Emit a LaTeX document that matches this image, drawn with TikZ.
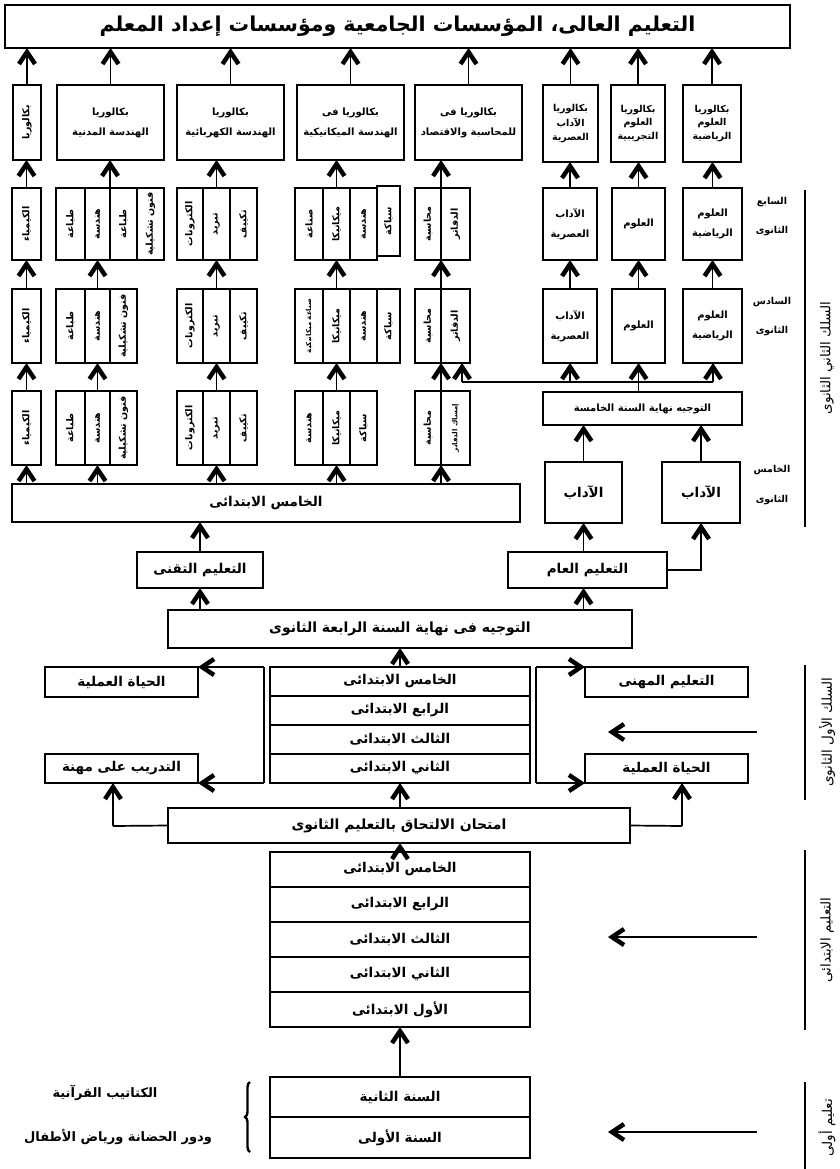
\documentclass[tikz,border=0pt]{standalone}
\usepackage{fontspec}
\usetikzlibrary{arrows.meta,decorations.pathreplacing}
\newfontfamily\ar[Script=Arabic]{DejaVu Sans}
\TeXXeTstate=1
\newcommand\AR[1]{\beginR #1\endR}
\newcommand\bx[7][]{\node[box,#1,minimum width={(#5-#3)*1pt},minimum height={(#6-#4)*1pt}] (#2) at ({(#3+#5)/2},{(#4+#6)/2}) {#7};}
\newcommand\vb[7][]{\node[box,minimum width={(#5-#3)*1pt},minimum height={(#6-#4)*1pt}] (#2) at ({(#3+#5)/2},{(#4+#6)/2}) {};
  \node[vt,#1] (#2t) at (#2.center) {#7};}
\begin{document}
\begin{tikzpicture}[x=1pt,y=-1pt,
  box/.style={draw,line width=2.8pt,inner sep=1pt,outer sep=0pt,align=center,font=\ar\bfseries\fontsize{13.5}{15}\selectfont},
  sm/.style={font=\ar\bfseries\fontsize{10}{11}\selectfont},
  xs/.style={font=\ar\bfseries\fontsize{9.5}{10.5}\selectfont},
  mid/.style={font=\ar\bfseries\fontsize{14}{16}\selectfont},
  title/.style={font=\ar\bfseries\fontsize{20.5}{22}\selectfont},
  vt/.style={rotate=90,inner sep=0pt,font=\ar\bfseries\fontsize{9.5}{10}\selectfont},
  tiny/.style={font=\ar\bfseries\fontsize{7}{8}\selectfont},
  lab/.style={inner sep=0pt,font=\ar\bfseries\fontsize{9.5}{10}\selectfont},
  side/.style={rotate=90,inner sep=0pt,font=\ar\fontsize{13.5}{15}\selectfont},
  arr/.style={line width=1.7pt,-{Straight Barb[length=12pt,width=16pt,line width=4.5pt]}},
  ln/.style={line width=1.7pt},
  bar/.style={line width=1.4pt}]
\fill[white] (0,0) rectangle (839,1169);
\useasboundingbox (0,0) rectangle (839,1169);
% top
\bx[title]{T}{5}{5}{790}{48}{\AR{التعليم العالى، المؤسسات الجامعية ومؤسسات إعداد المعلم}}
% bac row
\vb{B1}{13}{85}{41}{160}{\AR{بكالوريا}}
\bx[sm]{B2}{57}{85}{164}{160}{\AR{بكالوريا}\\[9pt]\AR{الهندسة المدنية}}
\bx[sm]{B3}{177}{85}{284}{160}{\AR{بكالوريا}\\[9pt]\AR{الهندسة الكهربائية}}
\bx[sm]{B4}{297}{85}{404}{160}{\AR{بكالوريا فى}\\[9pt]\AR{الهندسة الميكانيكية}}
\bx[sm]{B5}{415}{85}{522}{160}{\AR{بكالوريا فى}\\[9pt]\AR{للمحاسبة والاقتصاد}}
\bx[xs]{B6}{543}{85}{598}{162}{\AR{بكالوريا}\\[3pt]\AR{الآداب}\\[3pt]\AR{العصرية}}
\bx[xs]{B7}{611}{85}{665}{162}{\AR{بكالوريا}\\[3pt]\AR{العلوم}\\[3pt]\AR{التجريبية}}
\bx[xs]{B8}{683}{85}{741}{162}{\AR{بكالوريا}\\[3pt]\AR{العلوم}\\[3pt]\AR{الرياضية}}
% row 7
\vb{r7a}{12}{188}{41}{260}{\AR{الكيمياء}}
\vb{r7b1}{56}{188}{85}{260}{\AR{طباعة}}
\vb{r7b2}{85}{188}{110}{260}{\AR{هندسة}}
\vb{r7b3}{110}{188}{137}{260}{\AR{طباعة}}
\vb{r7b4}{137}{188}{164}{260}{\AR{فنون تشكيلية}}
\vb{r7c1}{177}{188}{203}{260}{\AR{الكترونات}}
\vb{r7c2}{203}{188}{230}{260}{\AR{تبريد}}
\vb{r7c3}{230}{188}{257}{260}{\AR{تكييف}}
\vb{r7d1}{295}{188}{323}{260}{\AR{صناعة}}
\vb{r7d2}{323}{188}{350}{260}{\AR{ميكانيكا}}
\vb{r7d3}{350}{188}{377}{260}{\AR{هندسة}}
\vb{r7d4}{377}{186}{400}{256}{\AR{سباكة}}
\vb{r7e1}{415}{188}{441}{260}{\AR{محاسبة}}
\vb{r7e2}{441}{188}{470}{260}{\AR{الدفاتر}}
\bx[sm]{r7f}{543}{188}{597}{260}{\AR{الآداب}\\[9pt]\AR{العصرية}}
\bx[sm]{r7g}{612}{188}{665}{260}{\AR{العلوم}}
\bx[sm]{r7h}{683}{188}{742}{260}{\AR{العلوم}\\[9pt]\AR{الرياضية}}
\node[lab] (l7a) at (772,202) {\AR{السابع}};
\node[lab] (l7b) at (772,231) {\AR{الثانوى}};
% row 6
\vb{r6a}{12}{289}{41}{363}{\AR{الكيمياء}}
\vb{r6b1}{56}{289}{85}{363}{\AR{طباعة}}
\vb{r6b2}{85}{289}{110}{363}{\AR{هندسة}}
\vb{r6b3}{110}{289}{137}{363}{\AR{فنون تشكيلية}}
\vb{r6c1}{177}{289}{203}{363}{\AR{الكترونات}}
\vb{r6c2}{203}{289}{230}{363}{\AR{تبريد}}
\vb{r6c3}{230}{289}{257}{363}{\AR{تكييف}}
\vb[tiny]{r6d1}{295}{289}{323}{363}{\AR{صناعة ميكانيكية}}
\vb{r6d2}{323}{289}{350}{363}{\AR{ميكانيكا}}
\vb{r6d3}{350}{289}{377}{363}{\AR{هندسة}}
\vb{r6d4}{377}{289}{400}{363}{\AR{سباكة}}
\vb{r6e1}{415}{289}{441}{363}{\AR{محاسبة}}
\vb{r6e2}{441}{289}{470}{363}{\AR{الدفاتر}}
\bx[sm]{r6f}{543}{289}{597}{363}{\AR{الآداب}\\[9pt]\AR{العصرية}}
\bx[sm]{r6g}{612}{289}{665}{363}{\AR{العلوم}}
\bx[sm]{r6h}{683}{289}{742}{363}{\AR{العلوم}\\[9pt]\AR{الرياضية}}
\node[lab] (l6a) at (772,302) {\AR{السادس}};
\node[lab] (l6b) at (772,331) {\AR{الثانوى}};
% row 5
\vb{r5a}{12}{391}{41}{465}{\AR{الكيمياء}}
\vb{r5b1}{56}{391}{85}{465}{\AR{طباعة}}
\vb{r5b2}{85}{391}{110}{465}{\AR{هندسة}}
\vb{r5b3}{110}{391}{137}{465}{\AR{فنون تشكيلية}}
\vb{r5c1}{177}{391}{203}{465}{\AR{الكترونات}}
\vb{r5c2}{203}{391}{230}{465}{\AR{تبريد}}
\vb{r5c3}{230}{391}{257}{465}{\AR{تكييف}}
\vb{r5d1}{295}{391}{323}{465}{\AR{هندسة}}
\vb{r5d2}{323}{391}{350}{465}{\AR{ميكانيكا}}
\vb{r5d3}{350}{391}{377}{465}{\AR{سباكة}}
\vb{r5e1}{415}{391}{441}{465}{\AR{محاسبة}}
\vb[tiny]{r5e2}{441}{391}{470}{465}{\AR{إمساك الدفاتر}}
\bx[sm]{T5}{543}{392}{742}{425}{\AR{التوجيه نهاية السنة الخامسة}}
\bx{A1}{545}{462}{622}{523}{\AR{الآداب}}
\bx{A2}{662}{462}{740}{523}{\AR{الآداب}}
\node[lab] (l5a) at (772,470) {\AR{الخامس}};
\node[lab] (l5b) at (772,500) {\AR{الثانوى}};
\bx{W5}{12}{484}{520}{522}{\AR{الخامس الابتدائى}}
\bx{TT}{137}{552}{263}{588}{\AR{التعليم التقنى}}
\bx{TG}{508}{552}{667}{588}{\AR{التعليم العام}}
\bx[mid]{TJ4}{168}{610}{632}{648}{\AR{التوجيه فى نهاية السنة الرابعة الثانوى}}
\draw[bar] (805,190) coordinate (b1t) -- (805,527) coordinate (b1b);
\node[side] (s1) at (827,358) {\AR{السلك الثاني الثانوى}};
% arrows top section
\draw[arr] (B1.north) -- (B1.north |- T.south);
\draw[arr] (B2.north) -- (B2.north |- T.south);
\draw[arr] (B3.north) -- (B3.north |- T.south);
\draw[arr] (B4.north) -- (B4.north |- T.south);
\draw[arr] (B5.north) -- (B5.north |- T.south);
\draw[arr] (B6.north) -- (B6.north |- T.south);
\draw[arr] (B7.north) -- (B7.north |- T.south);
\draw[arr] (B8.north) -- (B8.north |- T.south);
\draw[arr] (r7a.north) -- (r7a.north |- B1.south);
\draw[arr] (r7b2.north east) -- (r7b2.north east |- B2.south);
\draw[arr] (r7c2.north) -- (r7c2.north |- B3.south);
\draw[arr] (r7d2.north) -- (r7d2.north |- B4.south);
\draw[arr] (r7e1.north east) -- (r7e1.north east |- B5.south);
\draw[arr] (r7f.north) -- (r7f.north |- B6.south);
\draw[arr] (r7g.north) -- (r7g.north |- B7.south);
\draw[arr] (r7h.north) -- (r7h.north |- B8.south);
\draw[arr] (r6a.north) -- (r7a.south);
\draw[arr] (r6b2.north) -- (r7b2.south);
\draw[arr] (r6c2.north) -- (r7c2.south);
\draw[arr] (r6d2.north) -- (r7d2.south);
\draw[arr] (r6e1.north east) -- (r7e1.south east);
\draw[arr] (r6f.north) -- (r7f.south);
\draw[arr] (r6g.north) -- (r7g.south);
\draw[arr] (r6h.north) -- (r7h.south);
\draw[arr] (r5a.north) -- (r6a.south);
\draw[arr] (r5b2.north) -- (r6b2.south);
\draw[arr] (r5c2.north) -- (r6c2.south);
\draw[arr] (r5d2.north) -- (r6d2.south);
\draw[arr] (r5e1.north east) -- (r6e1.south east);
\draw[arr] (W5.north -| r5a.south) -- (r5a.south);
\draw[arr] (W5.north -| r5b2.south) -- (r5b2.south);
\draw[arr] (W5.north -| r5c2.south) -- (r5c2.south);
\draw[arr] (W5.north -| r5d2.south) -- (r5d2.south);
\draw[arr] (W5.north -| r5e1.south east) -- (r5e1.south east);
% right branch
\coordinate (hl) at (462,382);
\coordinate (hr) at (713,382);
\draw[ln] (hl) -- (hr);
\draw[arr] (hl) -- (hl |- r6e2.south);
\draw[arr] (hl -| r6f.south) -- (r6f.south);
\draw[arr] (T5.north -| r6g.south) -- (r6g.south);
\draw[arr] (hr) -- (hr |- r6h.south);
\draw[arr] (A1.north) -- (A1.north |- T5.south);
\draw[arr] (A2.north) -- (A2.north |- T5.south);
\draw[arr] (TG.north -| A1.south) -- (A1.south);
\draw[arr] (TG.east) -| (A2.south);
\draw[arr] (TT.north) -- (TT.north |- W5.south);
\draw[arr] (TJ4.north -| TT.south) -- (TT.south);
\draw[arr] (TJ4.north -| A1.south) -- (TG.south -| A1.south);
% first cycle
\bx{LW1}{45}{667}{198}{697}{\AR{الحياة العملية}}
\bx{S1a}{270}{667}{530}{696}{\AR{الخامس الابتدائى}}
\bx{S1b}{270}{696}{530}{725}{\AR{الرابع الابتدائى}}
\bx{S1c}{270}{725}{530}{754}{\AR{الثالث الابتدائى}}
\bx{S1d}{270}{754}{530}{783}{\AR{الثاني الابتدائى}}
\bx{RV}{585}{667}{748}{697}{\AR{التعليم المهنى}}
\bx{LT}{45}{754}{198}{783}{\AR{التدريب على مهنة}}
\bx{RW}{585}{754}{748}{783}{\AR{الحياة العملية}}
\coordinate (lt) at (264,667);
\coordinate (lb) at (264,783);
\coordinate (rt) at (536,667);
\coordinate (rb) at (536,783);
\draw[ln] (lt) -- (lb);
\draw[ln] (rt) -- (rb);
\draw[arr] (lt) -- (LW1.north east);
\draw[arr] (lb) -- (LT.south east);
\draw[arr] (rt) -- (RV.north west);
\draw[arr] (rb) -- (RW.south west);
\draw[arr] (S1a.north) -- (S1a.north |- TJ4.south);
\coordinate (in1) at (757,732);
\coordinate (in1t) at (608,732);
\draw[arr] (in1) -- (in1t);
\draw[bar] (805,665) coordinate (b2t) -- (805,800) coordinate (b2b);
\node[side] (s2) at (827,732) {\AR{السلك الأول الثانوى}};
% exam
\bx[mid]{E}{168}{808}{630}{843}{\AR{امتحان الالتحاق بالتعليم الثانوى}}
\coordinate (el) at (113,826);
\coordinate (er) at (682,826);
\draw[ln] (E.west) -- (el);
\draw[arr] (el) -- (el |- LT.south);
\draw[ln] (E.east) -- (er);
\draw[arr] (er) -- (er |- RW.south);
\draw[arr] (E.north -| S1d.south) -- (S1d.south);
% primary
\bx{S2a}{270}{852}{530}{887}{\AR{الخامس الابتدائى}}
\bx{S2b}{270}{887}{530}{922}{\AR{الرابع الابتدائى}}
\bx{S2c}{270}{922}{530}{957}{\AR{الثالث الابتدائى}}
\bx{S2d}{270}{957}{530}{992}{\AR{الثاني الابتدائى}}
\bx{S2e}{270}{992}{530}{1027}{\AR{الأول الابتدائى}}
\draw[arr] (S2a.north) -- (S2a.north |- E.south);
\coordinate (in2) at (757,937);
\coordinate (in2t) at (608,937);
\draw[arr] (in2) -- (in2t);
\draw[bar] (805,850) coordinate (b3t) -- (805,1030) coordinate (b3b);
\node[side] (s3) at (827,940) {\AR{التعليم الابتدائى}};
% pre-school
\bx{S3a}{270}{1077}{530}{1117}{\AR{السنة الثانية}}
\bx{S3b}{270}{1117}{530}{1158}{\AR{السنة الأولى}}
\draw[arr] (S3a.north) -- (S3a.north |- S2e.south);
\coordinate (in3) at (757,1132);
\coordinate (in3t) at (608,1132);
\draw[arr] (in3) -- (in3t);
\draw[bar] (805,1082) coordinate (b4t) -- (805,1169) coordinate (b4b);
\node[side] (s4) at (827,1128) {\AR{تعليم أولى}};
\coordinate (brb) at (250,1152);
\coordinate (brt) at (250,1082);
\draw[line width=2.4pt,decorate,decoration={brace,amplitude=5pt}] (brb) -- (brt);
\node[font=\ar\bfseries\fontsize{13}{15}\selectfont] (k1) at (105,1093) {\AR{الكتاتيب القرآنية}};
\node[font=\ar\bfseries\fontsize{13}{15}\selectfont] (k2) at (118,1137) {\AR{ودور الحضانة ورياض الأطفال}};
\end{tikzpicture}
\end{document}
